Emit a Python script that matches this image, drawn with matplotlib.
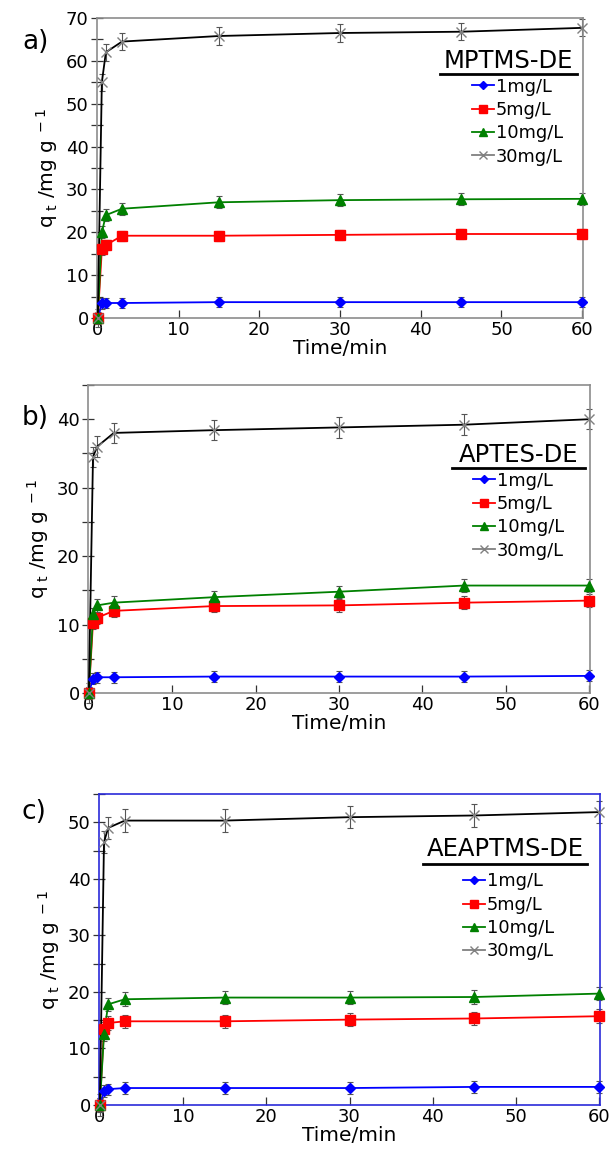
import matplotlib
matplotlib.use("Agg")
import matplotlib.pyplot as plt
from matplotlib.lines import Line2D
from matplotlib.ticker import MultipleLocator

plt.rcParams['font.family'] = ['DejaVu Sans']
plt.rcParams['mathtext.default'] = 'regular'

# ---------------- data ----------------
time = [0, 0.5, 1, 3, 15, 30, 45, 60]
labels = ['1mg/L', '5mg/L', '10mg/L', '30mg/L']

# panel a) MPTMS-DE
a_1 = [0, 3.4, 3.5, 3.5, 3.7, 3.7, 3.7, 3.7]
a_5 = [0, 16.0, 17.0, 19.2, 19.2, 19.4, 19.6, 19.6]
a_10 = [0, 20.0, 24.0, 25.5, 27.0, 27.5, 27.7, 27.8]
a_30 = [0, 55.0, 62.0, 64.5, 65.8, 66.5, 66.8, 67.7]
a_err = [1.2, 1.2, 1.4, 2.0]

# panel b) APTES-DE
b_1 = [0, 2.1, 2.3, 2.3, 2.4, 2.4, 2.4, 2.5]
b_5 = [0, 10.3, 11.0, 12.0, 12.7, 12.8, 13.2, 13.5]
b_10 = [0, 11.5, 12.8, 13.2, 14.0, 14.8, 15.7, 15.7]
b_30 = [0, 34.5, 36.0, 38.0, 38.4, 38.8, 39.2, 40.0]
b_err = [0.8, 0.9, 0.9, 1.5]

# panel c) AEAPTMS-DE
c_1 = [0, 2.5, 2.8, 3.0, 3.0, 3.0, 3.2, 3.2]
c_5 = [0, 13.5, 14.5, 14.8, 14.8, 15.1, 15.3, 15.7]
c_10 = [0, 12.5, 17.8, 18.7, 19.0, 19.0, 19.1, 19.7]
c_30 = [0, 46.5, 49.0, 50.3, 50.3, 50.9, 51.2, 51.8]
c_err = [1.0, 1.2, 1.2, 2.0]

W, H = 613, 1149
fig = plt.figure(figsize=(W / 100, H / 100), dpi=100)


def fx(px):
    return px / W


def fy(py):
    return 1 - py / H


def rect(l, t, r, b):
    return [fx(l), fy(b), (r - l) / W, (b - t) / H]


panels = [
    dict(rect=rect(97, 18, 583, 318), series=[a_1, a_5, a_10, a_30], err=a_err,
         ylim=70, title='MPTMS-DE', tag='a)', spine='#8c8c8c',
         ul=(440, 577, 74), tity=61, ent=(472, 88), tagpos=(22, 42)),
    dict(rect=rect(88, 385, 590, 693), series=[b_1, b_5, b_10, b_30], err=b_err,
         ylim=45, title='APTES-DE', tag='b)', spine='#8c8c8c',
         ul=(452, 585, 468), tity=455, ent=(473, 482), tagpos=(22, 418)),
    dict(rect=rect(99, 794, 600, 1105), series=[c_1, c_5, c_10, c_30], err=c_err,
         ylim=55, title='AEAPTMS-DE', tag='c)', spine='#2b2bd9',
         ul=(423, 587, 864), tity=849, ent=(463, 883), tagpos=(22, 812)),
]

colors = ['#0000ff', '#ff0000', '#008000', '#000000']
mcolors = ['#0000ff', '#ff0000', '#008000', '#808080']
markers = ['D', 's', '^', 'x']
msizes = [5, 7, 7, 7]

for p in panels:
    ax = fig.add_axes(p['rect'])
    handles = []
    for i, ys in enumerate(p['series']):
        ax.errorbar(time, ys, yerr=p['err'][i], fmt='none', ecolor='#555555',
                    elinewidth=0.8, capsize=2.5, capthick=0.8, zorder=2, clip_on=False)
        ax.plot(time, ys, color=colors[i], lw=1.3, zorder=3, clip_on=False)
        ax.plot(time, ys, linestyle='none', marker=markers[i], ms=msizes[i],
                color=mcolors[i], mec=mcolors[i], mew=1.0, zorder=4, clip_on=False)
        handles.append(Line2D([], [], color=mcolors[i] if i == 3 else colors[i], lw=1.3,
                              marker=markers[i], ms=msizes[i] * 0.8, mec=mcolors[i],
                              mfc=mcolors[i], mew=1.0))
    ax.set_xlim(-0.1, 60.1)
    ax.set_ylim(0, p['ylim'])
    for s in ax.spines.values():
        s.set_color(p['spine'])
        s.set_linewidth(1.2)
    ax.xaxis.set_major_locator(MultipleLocator(10))
    ax.yaxis.set_major_locator(MultipleLocator(10))
    ax.yaxis.set_minor_locator(MultipleLocator(5))
    ax.tick_params(axis='y', which='both', direction='inout', length=8, width=0.9,
                   color='#333333', labelsize=13, pad=2)
    ax.tick_params(axis='x', which='both', direction='in', length=6, width=0.9,
                   color='#333333', labelsize=13, pad=2)
    ax.set_xlabel('Time/min', fontsize=14.5, labelpad=0)
    ax.set_ylabel(r'q$_{\ t}$ /mg g$^{\ -1}$', fontsize=14.5, labelpad=4)

    # legend title with underline
    x0, x1, yl = p['ul']
    fig.text(fx((x0 + x1) / 2), fy(p['tity']), p['title'], ha='center', va='center',
             fontsize=17.5)
    fig.add_artist(Line2D([fx(x0), fx(x1)], [fy(yl), fy(yl)], transform=fig.transFigure,
                          color='black', lw=2))
    hx, hy = p['ent']
    ax.legend(handles, labels, loc='upper left',
              bbox_to_anchor=(fx(hx), fy(hy - 10.5)), bbox_transform=fig.transFigure,
              frameon=False, borderpad=0, borderaxespad=0, handlelength=1.25,
              handletextpad=0.1, labelspacing=0.3, fontsize=12.8)
    tx, ty = p['tagpos']
    fig.text(fx(tx), fy(ty), p['tag'], ha='left', va='center', fontsize=19)

fig.savefig('out.png', dpi=100)
